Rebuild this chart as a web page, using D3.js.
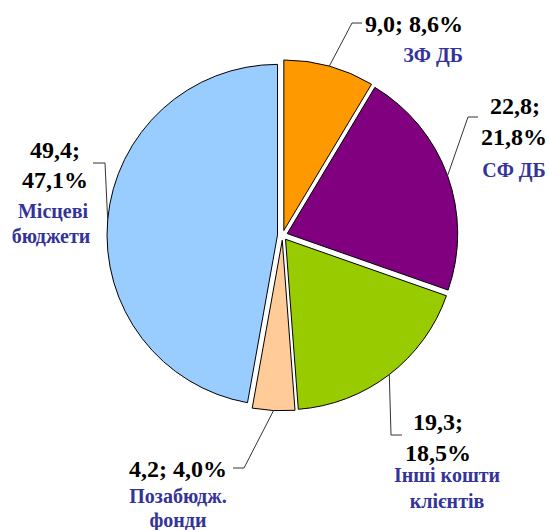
<!DOCTYPE html>
<html><head><meta charset="utf-8">
<script src="https://cdn.jsdelivr.net/npm/d3@7"></script>
</head><body style="margin:0">
<script>
const categories = ["ЗФ ДБ","СФ ДБ","Інші кошти клієнтів","Позабюдж. фонди","Місцеві бюджети"];
const values = [9.0, 22.8, 19.3, 4.2, 49.4];
const percents = [8.6, 21.8, 18.5, 4.0, 47.1];
const colors = ["#FF9900","#800080","#99CC00","#FFCC99","#99CCFF"];

// label layout (positions only)
const labelLayout = [
  {elbow:[352,23], end:[362,23], lines:[["9,0; 8,6%",414,32,"n"],["ЗФ ДБ",433,62,"c"]]},
  {elbow:[468,117], end:[478,117], lines:[["22,8;",515,114,"n"],["21,8%",514,145,"n"],["СФ ДБ",514,177,"c"]]},
  {elbow:[391,435], end:[402,435], lines:[["19,3;",438,430,"n"],["18,5%",438,461,"n"],["Інші кошти",447,482,"c"],["клієнтів",447,508,"c"]]},
  {elbow:[244,468], end:[233,468], lines:[["4,2; 4,0%",178,477,"n"],["Позабюдж.",178,503,"c"],["фонди",178,527,"c"]]},
  {elbow:[105,163], end:[93,163], lines:[["49,4;",55,158,"n"],["47,1%",55,188,"n"],["Місцеві",53,218,"c"],["бюджети",51,243,"c"]]}
];

const W=549,H=530, cx=282.5, cy=235.3, R=170.5, explode=5;
const svg=d3.select("body").append("svg").attr("width",W).attr("height",H).style("display","block");
const pie=d3.pie().sort(null).value(d=>d)(values);
const arc=d3.arc().innerRadius(0).outerRadius(R);
const g=svg.append("g").attr("transform",`translate(${cx},${cy})`);
const off=a=>[explode*Math.sin(a), -explode*Math.cos(a)];
pie.forEach((p,i)=>{
  const mid=(p.startAngle+p.endAngle)/2, o=off(mid);
  g.append("path").attr("d",arc(p)).attr("transform",`translate(${o[0]},${o[1]})`)
   .attr("fill",colors[i]).attr("stroke","#000").attr("stroke-width",1);
});
pie.forEach((p,i)=>{
  const mid=(p.startAngle+p.endAngle)/2, o=off(mid);
  const ax=cx+o[0]+R*Math.sin(mid), ay=cy+o[1]-R*Math.cos(mid);
  const L=labelLayout[i];
  svg.append("path").attr("d",d3.line()([[ax,ay],L.elbow,L.end]))
    .attr("fill","none").attr("stroke","#333").attr("stroke-width",1);
  L.lines.forEach(([t,x,y,k])=>{
    const el=svg.append("text").attr("y",y)
      .style("font-family","Liberation Serif").style("font-weight","bold")
      .style("font-size",(k==="n"?24:20)+"px")
      .style("fill",k==="n"?"#000":"#333399").text(t);
    const w=el.node().getComputedTextLength();
    el.attr("x",x-w/2);
  });
});
</script>
</body></html>
